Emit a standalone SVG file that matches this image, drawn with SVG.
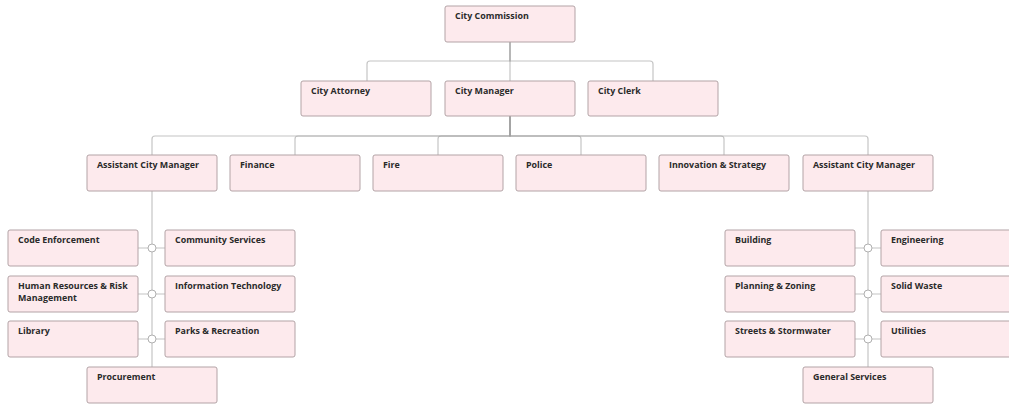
<svg xmlns="http://www.w3.org/2000/svg" width="1009" height="406" viewBox="0 0 1009 406">
<style>
.n rect{fill:#fdeaed;stroke:#b3a3a6;stroke-width:1}
.n text{font-family:"Open Sans","Liberation Sans",sans-serif;font-weight:bold;font-size:8.9px;fill:#2a2a2a}
#connectors path{fill:none;stroke:#9e9e9e;stroke-opacity:0.6;stroke-width:1.2}
#connectors circle{fill:#fff;stroke:#b0b0b0;stroke-width:1}
</style>
<rect width="1009" height="406" fill="#fff"/>
<g id="connectors">
<path d="M510 42V61H370Q367 61 367 64V81"/>
<path d="M510 42V81"/>
<path d="M510 42V61H650Q653 61 653 64V81"/>
<path d="M510 116V136H155Q152 136 152 139V155"/>
<path d="M510 116V136H298Q295 136 295 139V155"/>
<path d="M510 116V136H441Q438 136 438 139V155"/>
<path d="M510 116V136H578Q581 136 581 139V155"/>
<path d="M510 116V136H721Q724 136 724 139V155"/>
<path d="M510 116V136H865Q868 136 868 139V155"/>
<path d="M152 191V367"/>
<path d="M138 248H165M138 294H165M138 339H165"/>
<path d="M868 191V367"/>
<path d="M855 248H881M855 294H881M855 339H881"/>
<circle cx="152" cy="248" r="4"/><circle cx="152" cy="294" r="4"/><circle cx="152" cy="339" r="4"/>
<circle cx="868" cy="248" r="4"/><circle cx="868" cy="294" r="4"/><circle cx="868" cy="339" r="4"/>
</g>
<g id="city-commission" class="n"><rect x="445" y="6" width="130" height="36" rx="2"/><text x="455" y="19">City Commission</text></g>
<g id="city-attorney" class="n"><rect x="301" y="81" width="130" height="35" rx="2"/><text x="311" y="94">City Attorney</text></g>
<g id="city-manager" class="n"><rect x="445" y="81" width="130" height="35" rx="2"/><text x="455" y="94">City Manager</text></g>
<g id="city-clerk" class="n"><rect x="588" y="81" width="130" height="35" rx="2"/><text x="598" y="94">City Clerk</text></g>
<g id="acm-left" class="n"><rect x="87" y="155" width="130" height="36" rx="2"/><text x="97" y="168">Assistant City Manager</text></g>
<g id="finance" class="n"><rect x="230" y="155" width="130" height="36" rx="2"/><text x="240" y="168">Finance</text></g>
<g id="fire" class="n"><rect x="373" y="155" width="130" height="36" rx="2"/><text x="383" y="168">Fire</text></g>
<g id="police" class="n"><rect x="516" y="155" width="130" height="36" rx="2"/><text x="526" y="168">Police</text></g>
<g id="innovation" class="n"><rect x="659" y="155" width="130" height="36" rx="2"/><text x="669" y="168">Innovation &amp; Strategy</text></g>
<g id="acm-right" class="n"><rect x="803" y="155" width="130" height="36" rx="2"/><text x="813" y="168">Assistant City Manager</text></g>
<g id="code-enforcement" class="n"><rect x="8" y="230" width="130" height="36" rx="2"/><text x="18" y="243">Code Enforcement</text></g>
<g id="community-services" class="n"><rect x="165" y="230" width="130" height="36" rx="2"/><text x="175" y="243">Community Services</text></g>
<g id="hr" class="n"><rect x="8" y="276" width="130" height="36" rx="2"/><text x="18" y="289">Human Resources &amp; Risk</text><text x="18" y="301">Management</text></g>
<g id="it" class="n"><rect x="165" y="276" width="130" height="36" rx="2"/><text x="175" y="289">Information Technology</text></g>
<g id="library" class="n"><rect x="8" y="321" width="130" height="36" rx="2"/><text x="18" y="334">Library</text></g>
<g id="parks" class="n"><rect x="165" y="321" width="130" height="36" rx="2"/><text x="175" y="334">Parks &amp; Recreation</text></g>
<g id="procurement" class="n"><rect x="87" y="367" width="130" height="36" rx="2"/><text x="97" y="380">Procurement</text></g>
<g id="building" class="n"><rect x="725" y="230" width="130" height="36" rx="2"/><text x="735" y="243">Building</text></g>
<g id="engineering" class="n"><rect x="881" y="230" width="130" height="36" rx="2"/><text x="891" y="243">Engineering</text></g>
<g id="planning" class="n"><rect x="725" y="276" width="130" height="36" rx="2"/><text x="735" y="289">Planning &amp; Zoning</text></g>
<g id="solid-waste" class="n"><rect x="881" y="276" width="130" height="36" rx="2"/><text x="891" y="289">Solid Waste</text></g>
<g id="streets" class="n"><rect x="725" y="321" width="130" height="36" rx="2"/><text x="735" y="334">Streets &amp; Stormwater</text></g>
<g id="utilities" class="n"><rect x="881" y="321" width="130" height="36" rx="2"/><text x="891" y="334">Utilities</text></g>
<g id="general-services" class="n"><rect x="803" y="367" width="130" height="36" rx="2"/><text x="813" y="380">General Services</text></g>
</svg>
